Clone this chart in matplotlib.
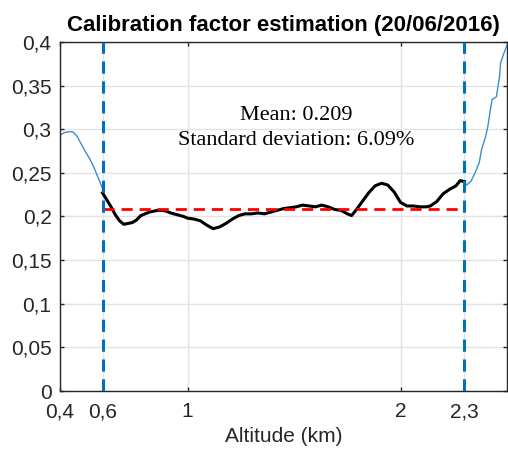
import matplotlib
matplotlib.use("Agg")
import matplotlib.pyplot as plt
from matplotlib.ticker import FuncFormatter

# blue curve: full profile (km, factor)
alt_full = [0.40, 0.42, 0.44, 0.46, 0.48, 0.50, 0.52, 0.54, 0.56, 0.58, 0.60,
            2.30, 2.31, 2.33, 2.35, 2.37, 2.38, 2.40, 2.41, 2.42, 2.43, 2.45,
            2.465, 2.47, 2.48, 2.49, 2.50]
cal_full = [0.293, 0.296, 0.297, 0.297, 0.292, 0.283, 0.274, 0.266, 0.256, 0.244, 0.232,
            0.240, 0.236, 0.240, 0.250, 0.262, 0.276, 0.292, 0.303, 0.319, 0.334, 0.337,
            0.360, 0.376, 0.383, 0.390, 0.396]

# black curve: selected range 0.6 - 2.3 km
alt_sel = [0.60, 0.62, 0.64, 0.66, 0.68, 0.70, 0.72, 0.74, 0.76, 0.78, 0.80, 0.82,
           0.84, 0.86, 0.88, 0.90, 0.92, 0.95, 0.98, 1.00, 1.03, 1.06, 1.09, 1.12,
           1.15, 1.18, 1.21, 1.24, 1.27, 1.30, 1.33, 1.36, 1.39, 1.42, 1.45, 1.48,
           1.51, 1.54, 1.57, 1.60, 1.63, 1.66, 1.69, 1.72, 1.75, 1.77, 1.79, 1.82,
           1.85, 1.88, 1.91, 1.94, 1.97, 2.00, 2.03, 2.06, 2.09, 2.12, 2.14, 2.17,
           2.20, 2.23, 2.26, 2.28, 2.30]
cal_sel = [0.227, 0.219, 0.211, 0.202, 0.195, 0.191, 0.192, 0.193, 0.196, 0.201, 0.203, 0.205,
           0.206, 0.207, 0.207, 0.206, 0.204, 0.202, 0.200, 0.198, 0.197, 0.195, 0.190, 0.186,
           0.188, 0.192, 0.197, 0.201, 0.203, 0.203, 0.204, 0.203, 0.205, 0.207, 0.209, 0.210,
           0.211, 0.213, 0.212, 0.211, 0.213, 0.211, 0.208, 0.207, 0.203, 0.201, 0.207, 0.217,
           0.227, 0.235, 0.238, 0.236, 0.228, 0.216, 0.212, 0.212, 0.211, 0.211, 0.212, 0.217,
           0.226, 0.231, 0.235, 0.241, 0.240]

mean_val = 0.209
std_pct = 6.09
alt_limits = [0.6, 2.3]
x_ticks = [0.4, 0.6, 1, 2, 2.3]
y_ticks = [0, 0.05, 0.1, 0.15, 0.2, 0.25, 0.3, 0.35, 0.4]

dark = "#262626"
plt.rcParams['font.family'] = ['Liberation Sans', 'DejaVu Sans']

fig = plt.figure(figsize=(5.08, 4.5), dpi=100)
ax = fig.add_axes([0.118, 0.131, 0.880, 0.776])

ax.plot(alt_full[:11], cal_full[:11], color="#3C8DD0", lw=1.0, zorder=2)
ax.plot(alt_full[11:], cal_full[11:], color="#3C8DD0", lw=1.0, zorder=2)
ax.plot(alt_sel, cal_sel, color="black", lw=2.2, zorder=3)
ax.plot(alt_limits, [mean_val, mean_val], color="#FF0000", lw=2, ls=(0, (4, 2.5)), zorder=4)
for a in alt_limits:
    ax.axvline(a, color="#0072BD", lw=2.2, ls=(0, (4, 2.5)), zorder=5)

ax.text(1.51, 0.316, "Mean: %.3f" % mean_val, family="Liberation Serif", fontsize=16,
        ha="center", va="center", color="black")
ax.text(1.51, 0.287, "Standard deviation: %.2f%%" % std_pct, family="Liberation Serif",
        fontsize=16, ha="center", va="center", color="black")

ax.set_xlim(0.4, 2.5)
ax.set_ylim(0, 0.4)
ax.set_xticks(x_ticks)
ax.set_yticks(y_ticks)
fmt = FuncFormatter(lambda v, p: ("%g" % v).replace(".", ","))
ax.xaxis.set_major_formatter(fmt)
ax.yaxis.set_major_formatter(fmt)
ax.grid(True, color="#E3E3E3", lw=1.0, zorder=0)
ax.set_axisbelow(True)
ax.tick_params(direction="in", top=True, right=True, length=3, width=1,
               colors=dark, labelsize=15, labelcolor=dark)
ax.tick_params(axis="x", pad=8)
ax.tick_params(axis="y", pad=6)
for s in ax.spines.values():
    s.set_color(dark)
    s.set_linewidth(1)

ax.set_xlabel("Altitude (km)", fontsize=15, color=dark, labelpad=4)
ax.set_title("Calibration factor estimation (20/06/2016)", fontsize=16,
             fontweight="bold", color="black", pad=8)

fig.savefig("out.png", dpi=100)
